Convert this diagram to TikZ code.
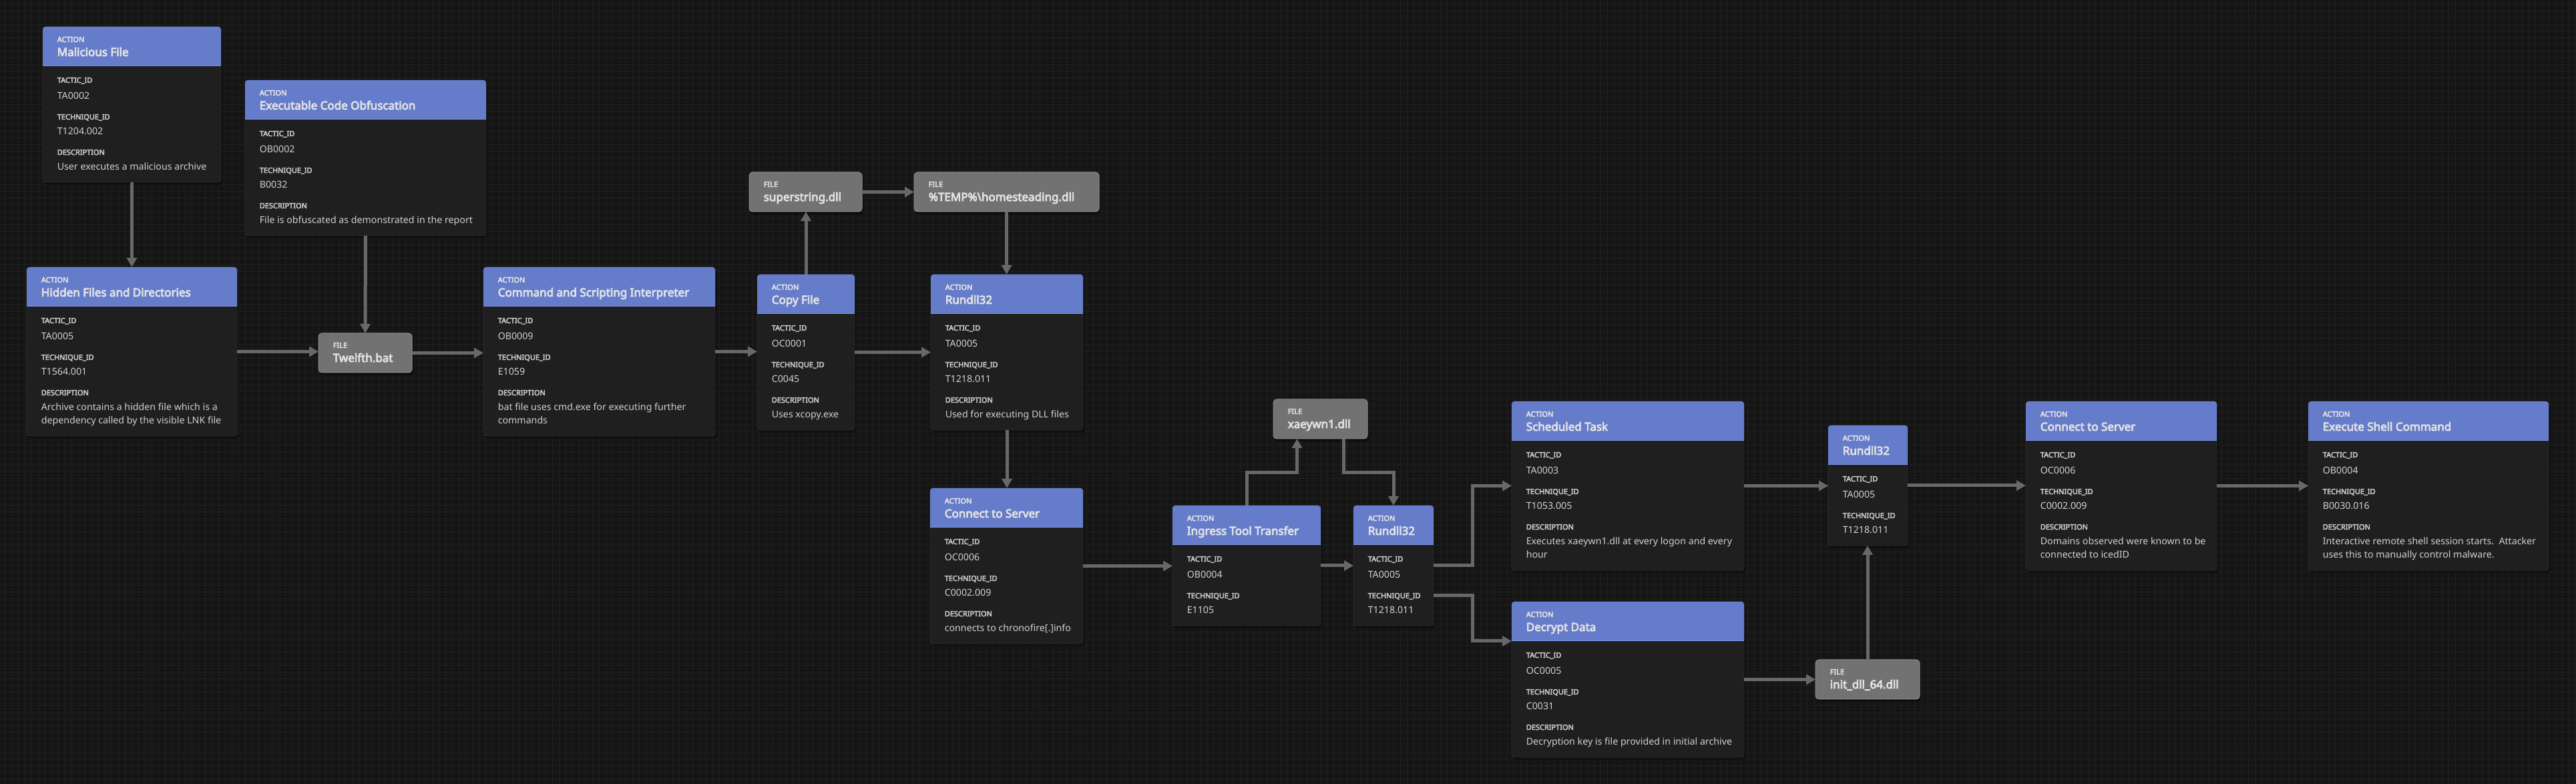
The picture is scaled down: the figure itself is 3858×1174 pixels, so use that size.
\documentclass[tikz,border=0pt]{standalone}
\usepackage{fontspec}
\setmainfont{Noto Sans}[AutoFakeBold=4.5]
\usetikzlibrary{calc,arrows.meta}
\definecolor{bgcol}{HTML}{151515}
\definecolor{gridcol}{HTML}{202020}
\definecolor{headcol}{HTML}{657CCA}
\definecolor{headline}{HTML}{7F95E6}
\definecolor{bodycol}{HTML}{1F1F1F}
\definecolor{bodyborder}{HTML}{2E2E2E}
\definecolor{filecol}{HTML}{727272}
\definecolor{fileborder}{HTML}{8A8A8A}
\definecolor{txtlight}{HTML}{E2E2E2}
\definecolor{txtval}{HTML}{D0D0D0}
\definecolor{txtlbl}{HTML}{C6C6C6}
\definecolor{conncol}{HTML}{686868}
\tikzset{
  actbody/.style={fill=bodycol, draw=bodyborder, line width=0.2pt, rounded corners=1pt, inner sep=0pt, outer sep=0pt},
  filebody/.style={fill=filecol, draw=fileborder, line width=0.25pt, rounded corners=1.25pt, inner sep=0pt, outer sep=0pt},
  shadowfx/.style={fill=black, opacity=0.35, rounded corners=1pt},
  hdrlbl/.style={anchor=base west, inner sep=0pt, text=txtlight, font=\fontsize{2.75}{3}\selectfont\bfseries},
  bodylbl/.style={anchor=base west, inner sep=0pt, text=txtlbl, font=\fontsize{2.75}{3}\selectfont\bfseries},
  titletxt/.style={anchor=base west, inner sep=0pt, text=txtlight, font=\fontsize{4.25}{5}\selectfont\bfseries},
  valtxt/.style={anchor=base west, inner sep=0pt, text=txtval, font=\fontsize{3.55}{4}\selectfont},
  conn/.style={draw=conncol, line width=1.25pt, -{Triangle[length=3.5pt,width=3.75pt]}},
}
% #1 name, #2 x, #3 y, #4 width, #5 height, #6 title, #7 tactic, #8 technique
\newcommand{\ActBox}[8]{%
  \fill[shadowfx] ($(#2,#3)+(2,4)$) rectangle ($(#2,#3)+(#4+2,#5+4)$);
  \node[actbody, anchor=north west, minimum width=#4*0.25pt, minimum height=#5*0.25pt] (#1) at (#2,#3) {};
  \fill[headcol, rounded corners=1pt] (#1.north west) rectangle ($(#1.north east)+(0,59)$);
  \fill[headcol] ($(#1.north west)+(0,50)$) rectangle ($(#1.north east)+(0,59)$);
  \draw[headline, line width=0.25pt] ($(#1.north west)+(0,59)$) -- ($(#1.north east)+(0,59)$);
  \node[hdrlbl] (#1-k) at ($(#1.north west)+(21,23)$) {ACTION};
  \node[titletxt] (#1-t) at ($(#1.north west)+(21,44)$) {#6};
  \node[bodylbl] (#1-l1) at ($(#1.north west)+(21,84)$) {TACTIC\_ID};
  \node[valtxt] (#1-v1) at ($(#1.north west)+(21,109)$) {#7};
  \node[bodylbl] (#1-l2) at ($(#1.north west)+(21,139)$) {TECHNIQUE\_ID};
  \node[valtxt] (#1-v2) at ($(#1.north west)+(21,162)$) {#8};
}
\newcommand{\DescOne}[2]{%
  \node[bodylbl] (#1-l3) at ($(#1.north west)+(21,192)$) {DESCRIPTION};
  \node[valtxt] (#1-d1) at ($(#1.north west)+(21,215)$) {#2};
}
\newcommand{\DescTwo}[3]{%
  \node[bodylbl] (#1-l3) at ($(#1.north west)+(21,192)$) {DESCRIPTION};
  \node[valtxt] (#1-d1) at ($(#1.north west)+(21,215)$) {#2};
  \node[valtxt] (#1-d2) at ($(#1.north west)+(21,235)$) {#3};
}
% #1 name, #2 x, #3 y, #4 width, #5 file name
\newcommand{\FileBox}[5]{%
  \fill[shadowfx] ($(#2,#3)+(2,4)$) rectangle ($(#2,#3)+(#4+2,63)$);
  \node[filebody, anchor=north west, minimum width=#4*0.25pt, minimum height=59*0.25pt] (#1) at (#2,#3) {};
  \node[hdrlbl] (#1-k) at ($(#1.north west)+(21,22)$) {FILE};
  \node[titletxt] (#1-t) at ($(#1.north west)+(21,43)$) {#5};
}
\begin{document}
\begin{tikzpicture}[x=0.25pt, y=-0.25pt]
\useasboundingbox (0,0) rectangle (3858,1174);
\fill[bgcol] (0,0) rectangle (3858,1174);
\foreach \gx in {7,17,...,3857} \draw[gridcol, line width=0.25pt] (\gx,0) -- (\gx,1174);
\foreach \gy in {7,17,...,1167} \draw[gridcol, line width=0.25pt] (0,\gy) -- (3858,\gy);

\ActBox{mal}{64}{40}{267}{233}{Malicious File}{TA0002}{T1204.002}
\DescOne{mal}{User executes a malicious archive}
\ActBox{eco}{367}{120}{361}{233}{Executable Code Obfuscation}{OB0002}{B0032}
\DescOne{eco}{File is obfuscated as demonstrated in the report}
\ActBox{hid}{40}{400}{315}{253}{Hidden Files and Directories}{TA0005}{T1564.001}
\DescTwo{hid}{Archive contains a hidden file which is a}{dependency called by the visible LNK file}
\ActBox{cmd}{724}{400}{347}{253}{Command and Scripting Interpreter}{OB0009}{E1059}
\DescTwo{cmd}{bat file uses cmd.exe for executing further}{commands}
\ActBox{cpy}{1134}{411}{146}{233}{Copy File}{OC0001}{C0045}
\DescOne{cpy}{Uses xcopy.exe}
\ActBox{rda}{1394}{411}{228}{233}{Rundll32}{TA0005}{T1218.011}
\DescOne{rda}{Used for executing DLL files}
\ActBox{csa}{1393}{731}{229}{233}{Connect to Server}{OC0006}{C0002.009}
\DescOne{csa}{connects to chronofire[.]info}
\ActBox{ing}{1756}{757}{222}{180}{Ingress Tool Transfer}{OB0004}{E1105}
\ActBox{rdb}{2027}{757}{120}{180}{Rundll32}{TA0005}{T1218.011}
\ActBox{sch}{2264}{601}{348}{253}{Scheduled Task}{TA0003}{T1053.005}
\DescTwo{sch}{Executes xaeywn1.dll at every logon and every}{hour}
\ActBox{dec}{2264}{901}{348}{233}{Decrypt Data}{OC0005}{C0031}
\DescOne{dec}{Decryption key is file provided in initial archive}
\ActBox{rdc}{2738}{637}{119}{180}{Rundll32}{TA0005}{T1218.011}
\ActBox{csb}{3034}{601}{286}{253}{Connect to Server}{OC0006}{C0002.009}
\DescTwo{csb}{Domains observed were known to be}{connected to icedID}
\ActBox{exe}{3457}{601}{360}{253}{Execute Shell Command}{OB0004}{B0030.016}
\DescTwo{exe}{Interactive remote shell session starts.\ \ Attacker}{uses this to manually control malware.}

\FileBox{twb}{477}{499}{140}{Twelfth.bat}
\FileBox{sup}{1122}{258}{169}{superstring.dll}
\FileBox{tmp}{1369}{258}{277}{\%TEMP\%\textbackslash homesteading.dll}
\FileBox{xae}{1907}{598}{141}{xaeywn1.dll}
\FileBox{ini}{2719}{988}{156}{init\_dll\_64.dll}

\draw[conn] (mal.south) -- (hid.north);
\draw[conn] (eco.south) -- (twb.north);
\draw[conn] (hid.east) -- (hid.east -| twb.west);
\draw[conn] (twb.east) -- (twb.east -| cmd.west);
\draw[conn] (cmd.east) -- (cmd.east -| cpy.west);
\draw[conn] (cpy.north) -- (cpy.north |- sup.south);
\draw[conn] (sup.east) -- (sup.east -| tmp.west);
\draw[conn] (tmp.south) -- (tmp.south |- rda.north);
\draw[conn] (cpy.east) -- (cpy.east -| rda.west);
\draw[conn] (rda.south) -- (rda.south |- csa.north);
\draw[conn] (csa.east) -- (csa.east -| ing.west);
\draw[conn] (ing.north) |- ($(xae.south)+(-35,51)$) -- ($(xae.south)+(-35,0)$);
\draw[conn] ($(xae.south)+(35,0)$) -- ($(xae.south)+(35,51)$) -| (rdb.north);
\draw[conn] (ing.east) -- (ing.east -| rdb.west);
\draw[conn] (rdb.east) -- ++(58,0) |- (sch.west);
\draw[conn] ($(rdb.east)+(0,45)$) -- ++(58,0) |- ($(dec.north west)+(0,59)$);
\draw[conn] (sch.east) -- (sch.east -| rdc.west);
\draw[conn] (dec.east) -- (dec.east -| ini.west);
\draw[conn] (ini.north) -- (ini.north |- rdc.south);
\draw[conn] (rdc.east) -- (rdc.east -| csb.west);
\draw[conn] (csb.east) -- (csb.east -| exe.west);
\end{tikzpicture}
\end{document}
